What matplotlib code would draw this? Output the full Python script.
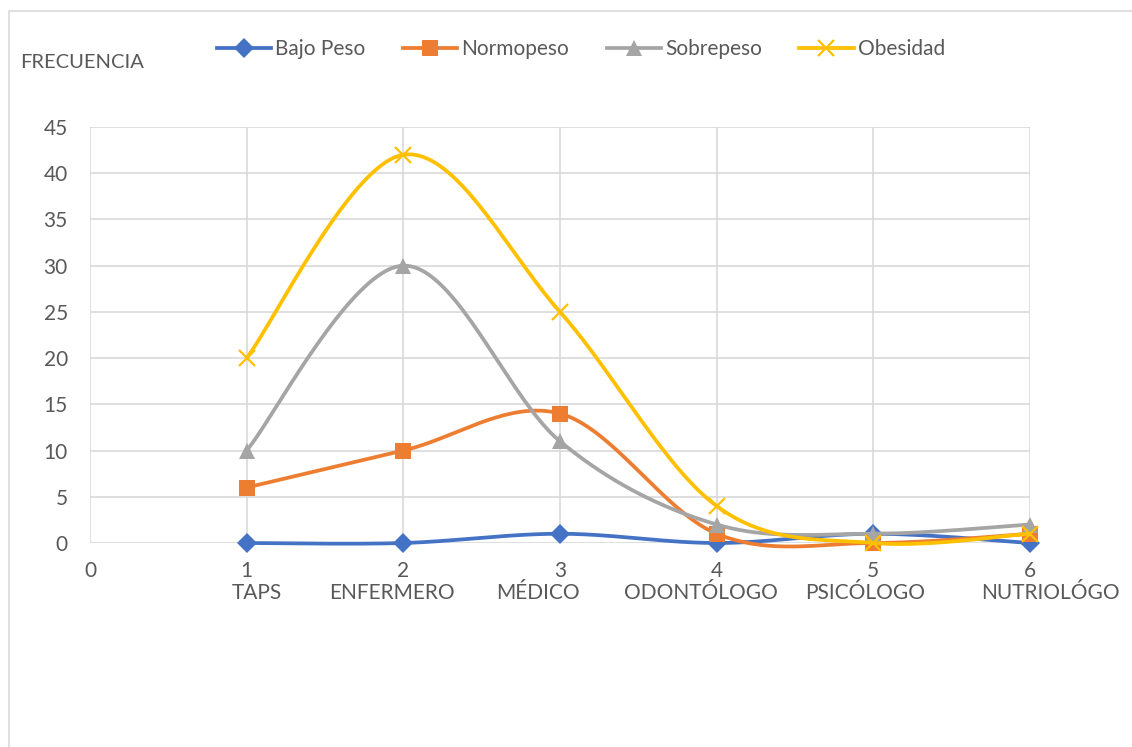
import numpy as np
import matplotlib
matplotlib.use("Agg")
import matplotlib.pyplot as plt
from matplotlib.patches import Rectangle
from matplotlib.lines import Line2D

plt.rcParams['font.family'] = ['Lato', 'DejaVu Sans']

x_vals = [1, 2, 3, 4, 5, 6]
categories = ["TAPS", "ENFERMERO", "MÉDICO", "ODONTÓLOGO", "PSICÓLOGO", "NUTRIOLÓGO"]
bajo_peso = [0, 0, 1, 0, 1, 0]
normopeso = [6, 10, 14, 1, 0, 1]
sobrepeso = [10, 30, 11, 2, 1, 2]
obesidad = [20, 42, 25, 4, 0, 1]
series_names = ["Bajo Peso", "Normopeso", "Sobrepeso", "Obesidad"]
y_ticks = [0, 5, 10, 15, 20, 25, 30, 35, 40, 45]
x_ticks = [0, 1, 2, 3, 4, 5, 6]

# layout: horizontal shift (in x units) of each category label
cat_shift = [0.064, -0.07, -0.14, -0.10, -0.05, 0.128]

colors = ["#4472C4", "#ED7D31", "#A5A5A5", "#FFC000"]
markers = ["D", "s", "^", "x"]
msizes = [10.5, 12, 12, 11]


def smooth(xs, ys, n=40):
    xs = np.asarray(xs, float)
    ys = np.asarray(ys, float)
    P = np.column_stack([xs, ys])
    ext = np.vstack([P[0], P, P[-1]])
    out = []
    for i in range(len(P) - 1):
        p0, p1, p2, p3 = ext[i], ext[i + 1], ext[i + 2], ext[i + 3]
        c1 = p1 + (p2 - p0) / 6.0
        c2 = p2 - (p3 - p1) / 6.0
        t = np.linspace(0, 1, n)[:, None]
        seg = (1 - t) ** 3 * p1 + 3 * (1 - t) ** 2 * t * c1 + 3 * (1 - t) * t ** 2 * c2 + t ** 3 * p2
        out.append(seg if i == 0 else seg[1:])
    s = np.vstack(out)
    return s[:, 0], s[:, 1]


fig = plt.figure(figsize=(11.32, 7.47), dpi=100)
fig.patches.append(Rectangle((9 / 1132, 0 - 0.01), 1.1, 1 - 11 / 747 + 0.01, transform=fig.transFigure,
                             fill=False, edgecolor="#D9D9D9", linewidth=1.2))
ax = fig.add_axes([90 / 1132, 1 - 543 / 747, 940 / 1132, 416 / 747])

data = [bajo_peso, normopeso, sobrepeso, obesidad]
handles = []
for i, (ys, name) in enumerate(zip(data, series_names)):
    sx, sy = smooth(x_vals, ys)
    ax.plot(sx, sy, color=colors[i], lw=2.7, zorder=3 + i, solid_capstyle='round', clip_on=False)
    mew = 1.6 if markers[i] == "x" else 0
    ax.plot(x_vals, ys, linestyle='none', marker=markers[i], ms=msizes[i], color=colors[i],
            markeredgecolor=colors[i], mew=mew, zorder=3 + i, clip_on=False)
    handles.append(Line2D([], [], color=colors[i], lw=2.7, marker=markers[i], ms=msizes[i],
                          markeredgecolor=colors[i], mew=mew))

ax.set_xlim(0, 6)
ax.set_ylim(0, 45)
ax.set_xticks(x_ticks)
ax.set_yticks(y_ticks)
ax.grid(True, color="#D9D9D9", lw=1.2, zorder=0)
ax.set_axisbelow(True)
for sp in ax.spines.values():
    sp.set_visible(False)
ax.tick_params(length=0, labelsize=15, labelcolor="#595959")
ax.tick_params(axis='x', pad=13)
ax.tick_params(axis='y', pad=16)

for xv, cat, dx in zip(x_vals, categories, cat_shift):
    ax.text(xv + dx, -5.45, cat, ha='center', va='center', fontsize=15, color="#595959")

fig.text(20 / 1132, 1 - 62 / 747, "FRECUENCIA", ha='left', va='center', fontsize=14.5, color="#595959")

fig.legend(handles, series_names, loc='center', bbox_to_anchor=(581 / 1132, 1 - 49 / 747), ncol=4,
           frameon=False, fontsize=15, labelcolor="#595959", handlelength=2.6, columnspacing=1.8,
           handletextpad=0.2)

fig.savefig("out.png", dpi=100)
